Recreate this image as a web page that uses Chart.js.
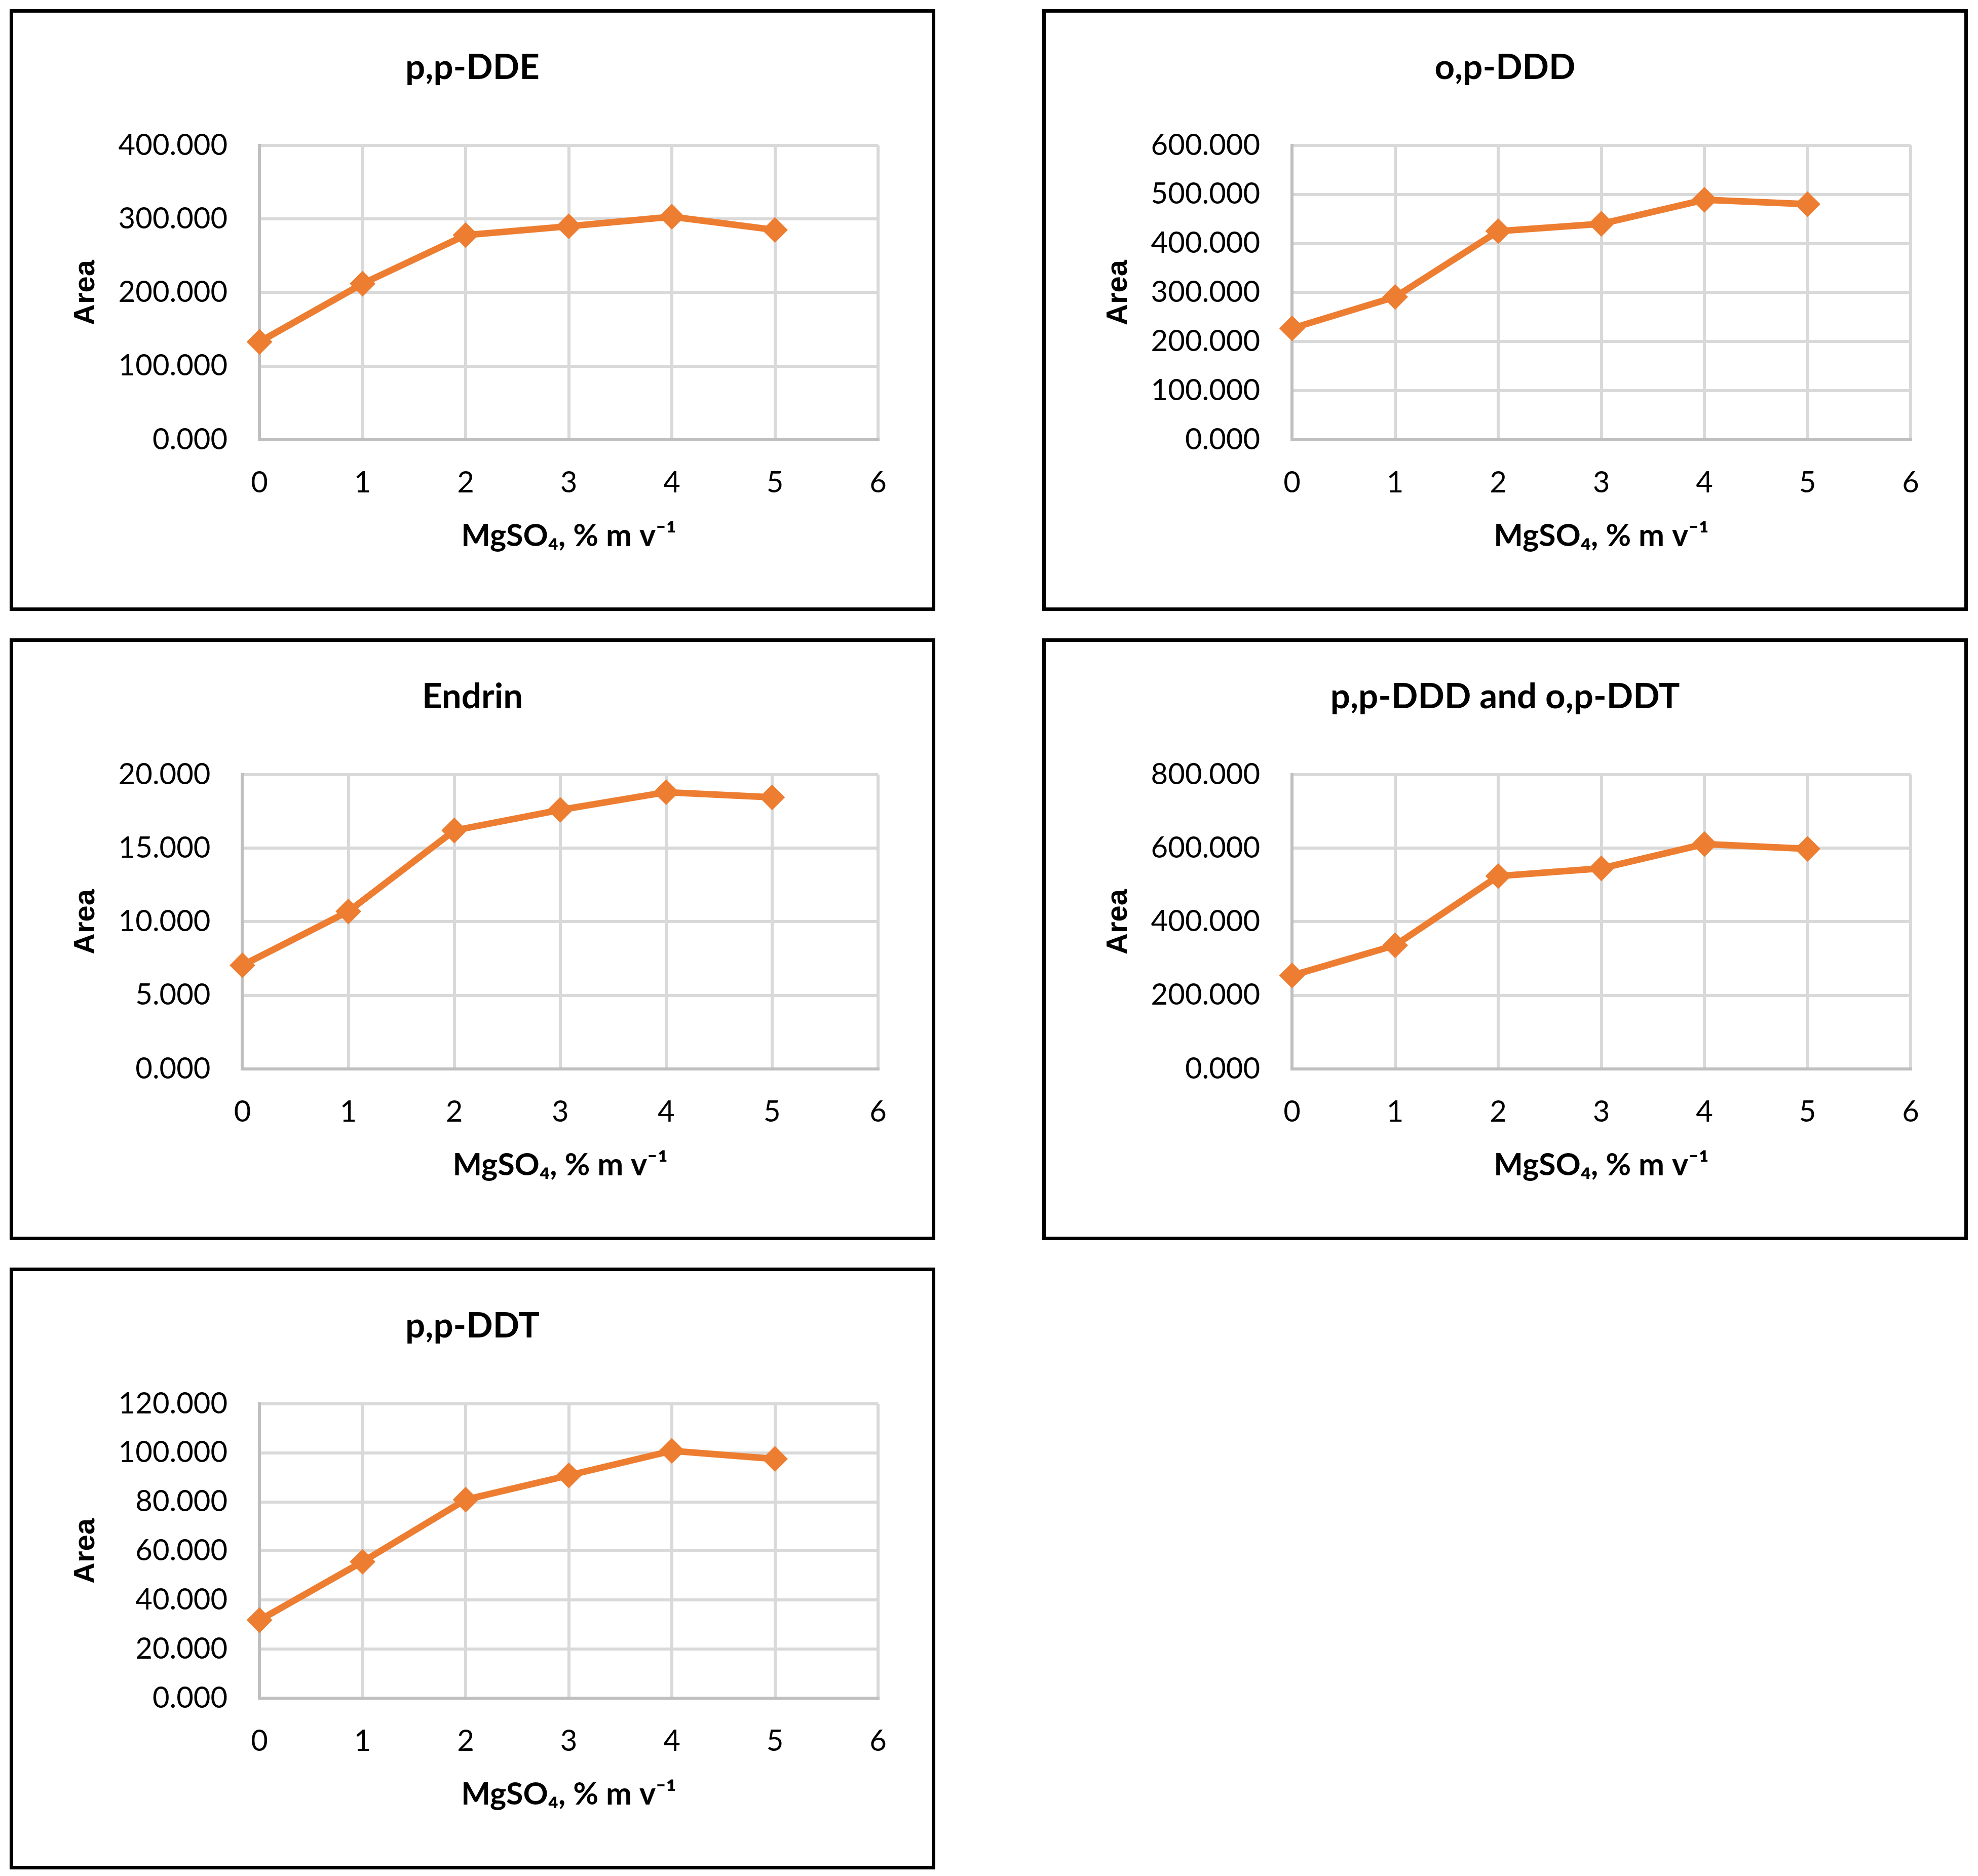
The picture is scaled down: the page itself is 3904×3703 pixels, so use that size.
<!DOCTYPE html>
<html><head><meta charset="utf-8">
<script src="https://cdn.jsdelivr.net/npm/chart.js@4"></script>
<style>
html,body{margin:0;padding:0;background:#fff;}
body{width:3904px;height:3703px;position:relative;overflow:hidden;}
.panel{position:absolute;}
.panel canvas{position:absolute;left:0;top:0;}
.frame{position:absolute;left:0;top:0;right:0;bottom:0;border:7px solid #000;box-sizing:border-box;pointer-events:none;}
</style></head><body>
<script>
// ---- data ----
const xValues = [0, 1, 2, 3, 4, 5];
const xTicks = [0, 1, 2, 3, 4, 5, 6];
const chartTitles = ['p,p-DDE', 'o,p-DDD', 'Endrin', 'p,p-DDD and o,p-DDT', 'p,p-DDT'];
const ppDDE = [133, 212, 278, 290, 303, 285];
const opDDD = [227, 291, 425, 440, 489, 480];
const endrin = [7.04, 10.7, 16.2, 17.6, 18.8, 18.45];
const ppDDD_opDDT = [254, 336, 524, 545, 611, 598];
const ppDDT = [31.8, 55.6, 80.9, 90.8, 100.8, 97.5];
const yMaxima = [400, 600, 20, 800, 120];
const ySteps = [100, 100, 5, 200, 20];
const yAxisTitle = 'Area';
const xAxisTitle = 'MgSO\u2084, % m v\u207B\u00B9';

// ---- layout ----
const W = 1827, H = 1188;
const boxes = [[19, 18], [2057, 18], [19, 1260], [2057, 1260], [19, 2502]];
const series = [ppDDE, opDDD, endrin, ppDDD_opDDT, ppDDT];
const ORANGE = '#ED7D31';

function makePanel(i) {
  const div = document.createElement('div');
  div.className = 'panel';
  div.style.left = boxes[i][0] + 'px';
  div.style.top = boxes[i][1] + 'px';
  div.style.width = W + 'px';
  div.style.height = H + 'px';
  const cv = document.createElement('canvas');
  cv.width = W; cv.height = H;
  cv.style.width = W + 'px'; cv.style.height = H + 'px';
  div.appendChild(cv);
  const fr = document.createElement('div');
  fr.className = 'frame';
  div.appendChild(fr);
  document.body.appendChild(div);

  const vals = series[i];
  new Chart(cv, {
    type: 'line',
    data: {
      datasets: [{
        data: xValues.map((x, k) => ({ x: x, y: vals[k] })),
        borderColor: ORANGE,
        backgroundColor: ORANGE,
        borderWidth: 13,
        tension: 0,
        pointStyle: 'rectRot',
        pointRadius: 24,
        pointHoverRadius: 24,
        pointBorderWidth: 2,
        pointBackgroundColor: ORANGE,
        pointBorderColor: ORANGE,
        clip: false
      }]
    },
    options: {
      responsive: false,
      animation: false,
      devicePixelRatio: 1,
      events: [],
      layout: { padding: { left: 113, right: 113, top: 0, bottom: 0 } },
      plugins: {
        legend: { display: false },
        tooltip: { enabled: false },
        title: {
          display: true,
          text: chartTitles[i],
          color: '#000',
          font: { family: 'Lato', weight: 'bold', size: 69, lineHeight: 1.2 },
          padding: { top: 74, bottom: 112 }
        }
      },
      scales: {
        x: {
          type: 'linear',
          min: 0,
          max: 6,
          afterBuildTicks: s => { s.ticks = xTicks.map(v => ({ value: v })); },
          afterFit: s => { s.height = 338; },
          ticks: {
            padding: 50,
            color: '#000',
            font: { family: 'Lato', size: 58, lineHeight: 1.2 },
            callback: v => String(v),
            maxRotation: 0
          },
          grid: { color: '#D9D9D9', lineWidth: 6, drawTicks: false },
          border: { color: '#BFBFBF', width: 6 },
          title: {
            display: true,
            text: xAxisTitle,
            color: '#000',
            font: { family: 'Lato', weight: 'bold', size: 61, lineHeight: 1.2 },
            padding: { top: 0, bottom: 111 }
          }
        },
        y: {
          type: 'linear',
          min: 0,
          max: yMaxima[i],
          ticks: {
            stepSize: ySteps[i],
            padding: 63,
            color: '#000',
            font: { family: 'Lato', size: 58, lineHeight: 1.2 },
            callback: v => Number(v).toFixed(3)
          },
          grid: { color: '#D9D9D9', lineWidth: 6, drawTicks: false },
          border: { color: '#BFBFBF', width: 6 },
          title: {
            display: true,
            text: yAxisTitle,
            color: '#000',
            font: { family: '"Liberation Sans", Arial, sans-serif', weight: 'bold', size: 58, lineHeight: 1.2 },
            padding: { top: 3, bottom: -34 }
          }
        }
      }
    }
  });
}
for (let i = 0; i < 5; i++) makePanel(i);
</script>
</body></html>
